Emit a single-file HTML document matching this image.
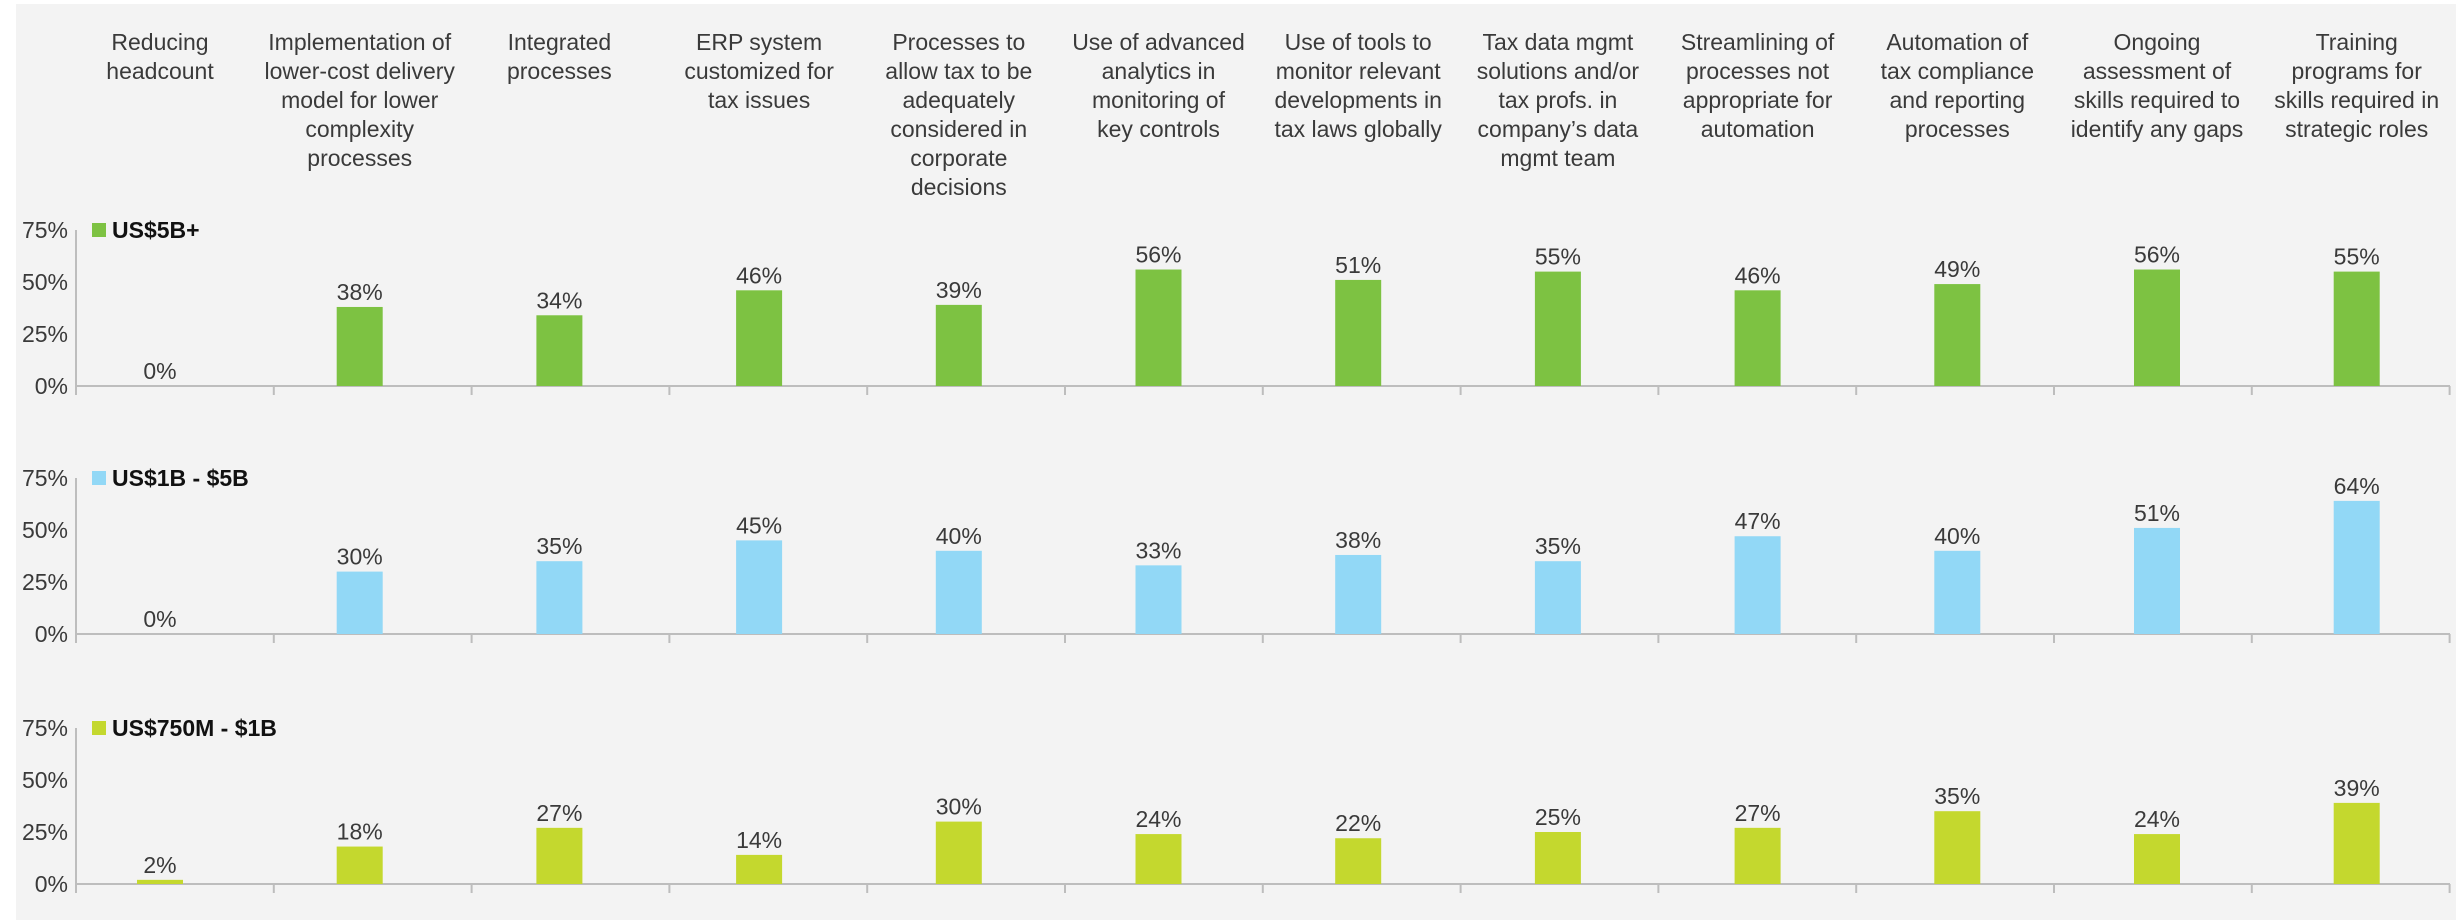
<!DOCTYPE html>
<html><head><meta charset="utf-8"><style>
body{margin:0;background:#fff;width:2460px;height:924px;overflow:hidden}
svg{display:block;font-family:"Liberation Sans",sans-serif}
</style></head><body>
<svg id="chart" width="2460" height="924">
<rect x="16" y="4" width="2440" height="916" fill="#f3f3f3"/>
</svg>
<script>
const categories=[["Reducing","headcount"],["Implementation of","lower-cost delivery","model for lower","complexity","processes"],["Integrated","processes"],["ERP system","customized for","tax issues"],["Processes to","allow tax to be","adequately","considered in","corporate","decisions"],["Use of advanced","analytics in","monitoring of","key controls"],["Use of tools to","monitor relevant","developments in","tax laws globally"],["Tax data mgmt","solutions and/or","tax profs. in","company’s data","mgmt team"],["Streamlining of","processes not","appropriate for","automation"],["Automation of","tax compliance","and reporting","processes"],["Ongoing","assessment of","skills required to","identify any gaps"],["Training","programs for","skills required in","strategic roles"]];
const seriesNames=["US$5B+","US$1B - $5B","US$750M - $1B"];
const seriesLarge=[0,38,34,46,39,56,51,55,46,49,56,55];
const seriesMid=[0,30,35,45,40,33,38,35,47,40,51,64];
const seriesSmall=[2,18,27,14,30,24,22,25,27,35,24,39];
const tickValues=[0,25,50,75];
const tickLabels=["0%","25%","50%","75%"];
const colors=["#7dc242","#92d8f6","#c4d82e"];
const baselines=[386,634,884];
const allSeries=[seriesLarge,seriesMid,seriesSmall];
const svg=document.getElementById('chart');
const NS="http://www.w3.org/2000/svg";
function mk(tag,attrs,parent){const e=document.createElementNS(NS,tag);for(const k in attrs)e.setAttribute(k,attrs[k]);(parent||svg).appendChild(e);return e;}
const xCenter=i=>160+199.7*i;
const tickX=i=>76+197.8*i;
const yScale=(v,p)=>baselines[p]-v*156/75;
categories.forEach((lines,i)=>{
  const t=mk('text',{x:xCenter(i),y:50,'text-anchor':'middle','font-size':23,fill:'#3a3a3a'});
  
  
  lines.forEach((l,j)=>{const s=mk('tspan',{x:xCenter(i),y:50+29*j},t);s.textContent=l;});
});
allSeries.forEach((vals,p)=>{
  const g=mk('g',{});
  
  
  mk('line',{x1:76,x2:76,y1:yScale(75,p),y2:baselines[p],stroke:'#bdbdbd','stroke-width':2},g);
  mk('line',{x1:76,x2:2450,y1:baselines[p],y2:baselines[p],stroke:'#bdbdbd','stroke-width':2},g);
  for(let i=0;i<=12;i++)mk('line',{x1:tickX(i),x2:tickX(i),y1:baselines[p],y2:baselines[p]+9,stroke:'#bdbdbd','stroke-width':2},g);
  tickValues.forEach((tv,k)=>{const t=mk('text',{x:68,y:yScale(tv,p)+8,'text-anchor':'end','font-size':23,fill:'#3a3a3a'},g);
    
    
    t.textContent=tickLabels[k];});
  const sq=mk('rect',{x:92,y:yScale(75,p)-7,width:14,height:14,fill:colors[p]},g);
  
  
  const lt=mk('text',{x:112,y:yScale(75,p)+8,'font-size':23,'font-weight':'bold',fill:'#111'},g);
  
  
  lt.textContent=seriesNames[p];
  vals.forEach((v,i)=>{
    const y=yScale(v,p);
    const b=mk('rect',{x:xCenter(i)-23,y:y,width:46,height:baselines[p]-y,fill:colors[p]},g);
    
    
    const vl=mk('text',{x:xCenter(i),y:y-7,'text-anchor':'middle','font-size':23,fill:'#3a3a3a'},g);
    
    
    vl.textContent=v+'%';
  });
});
</script>
</body></html>
